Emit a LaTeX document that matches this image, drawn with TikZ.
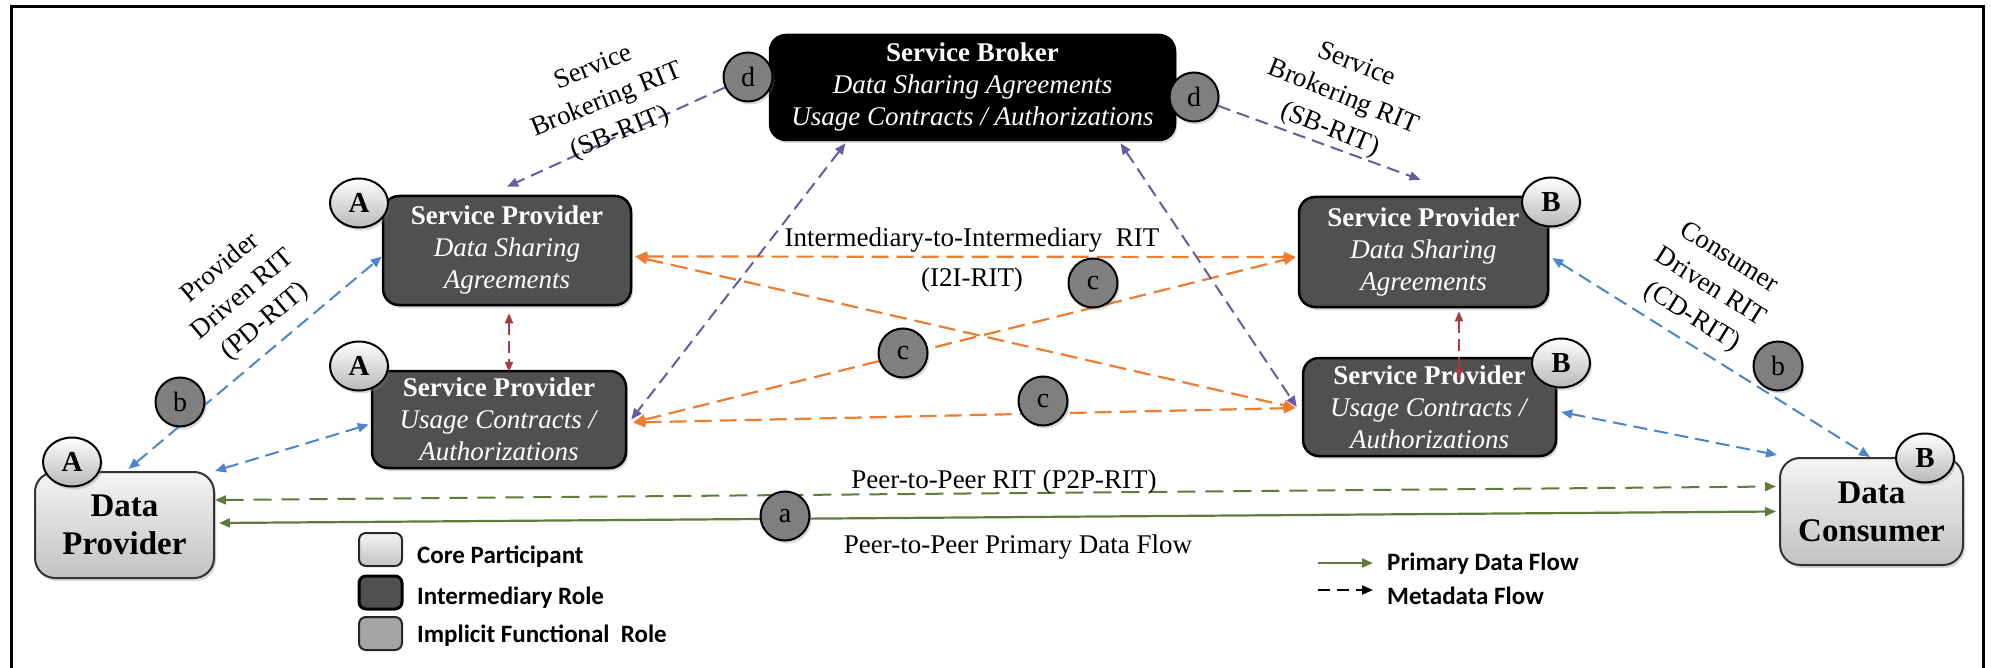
\documentclass[tikz,border=0pt]{standalone}
\usepackage{fontspec}
\setmainfont{Liberation Serif}
\newfontfamily\legfont{Carlito}
\usetikzlibrary{arrows.meta,shapes.geometric,shadows}
\definecolor{bluearr}{HTML}{4A86C8}
\definecolor{orangearr}{HTML}{ED7D31}
\definecolor{purplearr}{HTML}{6B5B9E}
\definecolor{redarr}{HTML}{A83A44}
\definecolor{greenarr}{HTML}{5E7B3A}
\definecolor{interfill}{HTML}{505050}
\definecolor{circfill}{HTML}{7F7F7F}
\definecolor{implfill}{HTML}{A5A5A5}
\definecolor{corelight}{HTML}{F4F4F4}
\definecolor{coredark}{HTML}{C2C2C2}
\begin{document}
\begin{tikzpicture}[x=1pt,y=-1pt,
  txt/.style={font=\fontsize{27}{32}\selectfont, inner sep=0pt},
  lab/.style={font=\fontsize{27}{35}\selectfont, align=center, inner sep=0pt},
  shad/.style={drop shadow={shadow xshift=2pt,shadow yshift=-3pt,opacity=0.3}},
  inter/.style={draw=black, line width=2.5pt, rounded corners=16pt, fill=interfill, text=white,
     align=center, inner sep=0pt, font=\fontsize{27}{32}\selectfont, shad},
  core/.style={draw=black!80, line width=2pt, rounded corners=20pt, top color=corelight, bottom color=coredark,
     align=center, inner sep=0pt, font=\bfseries\fontsize{33}{38}\selectfont, shad},
  badge/.style={ellipse, draw=black, line width=2pt, minimum width=58pt, minimum height=49pt, inner sep=0pt,
     top color=white, bottom color=gray!55, font=\bfseries\fontsize{29}{29}\selectfont, shad},
  smallc/.style={circle, draw=black, line width=2pt, minimum size=49pt, inner sep=0pt, fill=circfill,
     font=\fontsize{28}{28}\selectfont, shad},
  tip/.style={Triangle[length=11pt,width=9pt]},
  bll/.style={draw=bluearr, line width=2pt, dash pattern=on 14pt off 7pt, {Triangle[length=11pt,width=9pt]}-{Triangle[length=11pt,width=9pt]}},
  orl/.style={draw=orangearr, line width=2.2pt, dash pattern=on 17pt off 8pt, {Triangle[length=12pt,width=10pt]}-{Triangle[length=12pt,width=10pt]}},
  pul/.style={draw=purplearr, line width=2pt, dash pattern=on 13pt off 7pt},
  rdl/.style={draw=redarr, line width=2pt, dash pattern=on 12pt off 6pt, {Triangle[length=10pt,width=8pt]}-{Triangle[length=10pt,width=8pt]}},
  grd/.style={draw=greenarr, line width=2pt, dash pattern=on 18pt off 10pt, {Triangle[length=11pt,width=9pt]}-{Triangle[length=11pt,width=9pt]}},
  grs/.style={draw=greenarr, line width=2.2pt, {Triangle[length=11pt,width=9pt]}-{Triangle[length=11pt,width=9pt]}},
  legbox/.style={draw=black!85, line width=2pt, rounded corners=7pt, minimum width=43pt, minimum height=33pt, inner sep=0pt},
  legtxt/.style={font=\legfont\bfseries\fontsize{25}{30}\selectfont, inner sep=0pt}
]
\useasboundingbox (0,0) rectangle (1991,668);
\draw[line width=3pt] (11,6.5) rectangle (1983,675);

% boxes
\node[inter, fill=black, minimum width=405pt, minimum height=105pt] (sb) at (972.5,87.5)
  {\textbf{Service Broker}\\\textit{Data Sharing Agreements}\\\textit{Usage Contracts / Authorizations}};
\node[inter, minimum width=248pt, minimum height=109pt] (spadsa) at (507,250.5)
  {\textbf{Service Provider}\\\textit{Data Sharing}\\\textit{Agreements}};
\node[inter, minimum width=254pt, minimum height=97pt] (spauca) at (499,419.5)
  {\textbf{Service Provider}\\\textit{Usage Contracts /}\\\textit{Authorizations}};
\node[inter, minimum width=249pt, minimum height=110pt] (spbdsa) at (1423.5,252)
  {\textbf{Service Provider}\\\textit{Data Sharing}\\\textit{Agreements}};
\node[inter, minimum width=253pt, minimum height=98pt] (spbuca) at (1429.5,407)
  {\textbf{Service Provider}\\\textit{Usage Contracts /}\\\textit{Authorizations}};
\node[core, minimum width=179pt, minimum height=106pt] (dp) at (124.5,525) {Data\\Provider};
\node[core, minimum width=183pt, minimum height=107pt] (dc) at (1871.5,511.5) {Data\\Consumer};

% small function circles (positions)
\node[smallc] (dl) at (748,77) {d};
\node[smallc] (dr) at (1194,97) {d};

% connectors
\draw[bll] ([xshift=4pt,yshift=2pt]dp.north) -- ([yshift=-6pt]spadsa.west);
\draw[bll] (dp.north east) -- ([xshift=-2pt,yshift=-5pt]spauca.west);
\draw[bll] ([xshift=3pt,yshift=-6pt]spbdsa.east) -- ([xshift=-1.5pt]dc.north);
\draw[bll] ([xshift=4pt,yshift=-5pt]spbuca.east) -- ([xshift=-2pt,yshift=2pt]dc.north west);

\draw[orl] ([xshift=3pt,yshift=-6pt]spadsa.east) -- ([xshift=-2pt,yshift=-5pt]spbdsa.west);
\draw[orl] ([xshift=3pt,yshift=-6pt]spadsa.east) -- ([xshift=-6pt,yshift=-1pt]spbuca.west);
\draw[orl] ([xshift=6pt,yshift=-3pt]spauca.east) -- ([xshift=-2pt,yshift=-5pt]spbdsa.west);
\draw[orl] ([xshift=6pt,yshift=-3pt]spauca.east) -- ([xshift=-6pt,yshift=-1pt]spbuca.west);

\draw[pul, -{Triangle[length=11pt,width=9pt]}] (dl) -- ([yshift=8pt]spadsa.north);
\draw[pul, {Triangle[length=11pt,width=9pt]}-{Triangle[length=11pt,width=9pt]}] ([xshift=-127pt,yshift=-2pt]sb.south) -- ([xshift=4pt]spauca.east);
\draw[pul, {Triangle[length=11pt,width=9pt]}-{Triangle[length=11pt,width=9pt]}] ([xshift=148pt,yshift=-2pt]sb.south) -- ([xshift=-5pt]spbuca.west);
\draw[pul, -{Triangle[length=11pt,width=9pt]}] (dr) -- ([xshift=-3pt,yshift=16pt]spbdsa.north);

\draw[rdl] ([shift={(2,7)}]spadsa.south) -- ([shift={(10,2)}]spauca.north);
\draw[rdl] ([shift={(35.5,3)}]spbdsa.south) -- ([shift={(29.5,22)}]spbuca.north);

\draw[grd] ([yshift=25pt]dp.east) -- ([xshift=-3pt,yshift=25pt]dc.west);
\draw[grs] ([xshift=4pt,yshift=2pt]dp.east) -- ([xshift=-3pt]dc.west);

% circles on top of lines
\node[smallc] (bl) at (180,402) {b};
\node[smallc] (br) at (1778,366) {b};
\node[smallc] (c1) at (903,353) {c};
\node[smallc] (c2) at (1093,283) {c};
\node[smallc] (c3) at (1043,401) {c};
\node[smallc] (ca) at (785,516) {a};

% badges
\node[badge] (ba1) at (359,203) {A};
\node[badge] (ba2) at (359,366) {A};
\node[badge] (ba3) at (72,462) {A};
\node[badge] (bb1) at (1551,202) {B};
\node[badge] (bb2) at (1561,363) {B};
\node[badge] (bb3) at (1925,458) {B};

% labels
\node[lab, rotate=40] (lpd) at (243,295) {Provider\\Driven RIT\\(PD-RIT)};
\node[lab, rotate=-32] (lcd) at (1710,288) {Consumer\\Driven RIT\\(CD-RIT)};
\node[lab, rotate=22] (lsbl) at (607,101) {Service\\Brokering RIT\\(SB-RIT)};
\node[lab, rotate=-22] (lsbr) at (1343,98) {Service\\Brokering RIT\\(SB-RIT)};
\node[lab, font=\fontsize{27}{40}\selectfont] (li2i) at (972,260) {Intermediary-to-Intermediary\ \ RIT\\(I2I-RIT)};
\node[txt] (lp2p) at (1004,482) {Peer-to-Peer RIT (P2P-RIT)};
\node[txt] (lpdf) at (1018,547) {Peer-to-Peer Primary Data Flow};

% legend
\node[legbox, top color=corelight, bottom color=coredark] (lg1) at (380.5,549.5) {};
\node[legbox, fill=interfill, draw=black, line width=3pt] (lg2) at (380.5,592.5) {};
\node[legbox, fill=implfill] (lg3) at (380.5,633.5) {};
\node[legtxt, anchor=base west] (lt1) at (417,563) {Core Participant};
\node[legtxt, anchor=base west] (lt2) at (417,604) {Intermediary Role};
\node[legtxt, anchor=base west] (lt3) at (417,642) {Implicit Functional\ \ Role};

\coordinate (la1) at (1318,563);
\coordinate (la2) at (1373,563);
\coordinate (lb1) at (1318,590);
\coordinate (lb2) at (1373,590);
\draw[draw=greenarr, line width=2.2pt, -{Triangle[length=11pt,width=9pt]}] (la1) -- (la2);
\draw[draw=black, line width=2.2pt, dash pattern=on 12pt off 7pt, -{Triangle[length=11pt,width=9pt]}] (lb1) -- (lb2);
\node[legtxt, anchor=base west] (lt4) at (1387,570) {Primary Data Flow};
\node[legtxt, anchor=base west] (lt5) at (1387,604) {Metadata Flow};
\end{tikzpicture}
\end{document}
